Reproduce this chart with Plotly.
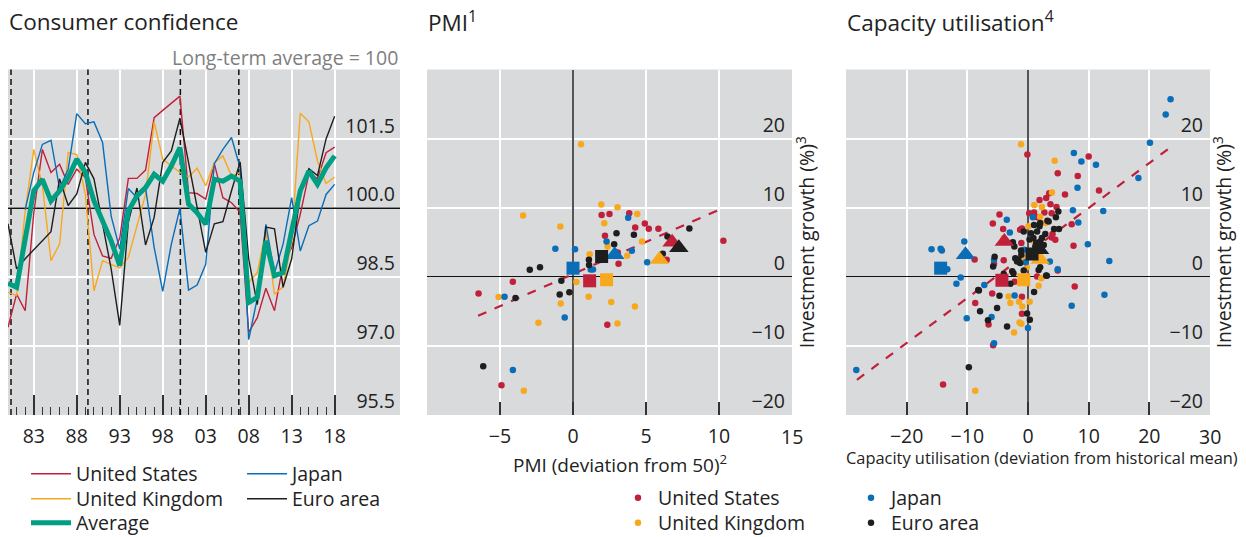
import plotly.graph_objects as go

# ---------------- data: consumer confidence (long-term average = 100) ----------------
years = list(range(1980, 2019))
cc_us = [97.41, 98.13, 97.77, 99.9, 101.28, 100.78, 100.96, 100.52, 100.85, 100.67,
         99.43, 98.96, 98.91, 99.35, 100.65, 100.65, 100.83, 101.97, 102.13, 102.28,
         102.44, 100.34, 100.32, 100.2, 100.97, 100.23, 100.12, 99.91, 97.3, 97.62,
         98.26, 97.77, 98.78, 99.14, 99.87, 100.75, 100.65, 101.21, 101.33]
cc_uk = [98.17, 98.1, 99.94, 101.28, 100.5, 98.86, 99.22, 101.21, 101.17, 100.3,
         98.2, 98.86, 98.78, 98.7, 98.93, 99.6, 100.3, 101.88, 101.07, 100.92,
         100.78, 100.68, 100.87, 100.49, 100.99, 101.14, 100.7, 100.78, 98.38, 98.6,
         99.51, 98.13, 98.29, 99.3, 102.07, 101.88, 101.03, 100.54, 100.68]
cc_jp = [None, None, 99.97, 100.78, 101.39, 101.48, 100.43, 100.85, 102.06, 101.84,
         101.88, 101.43, 99.83, 99.11, 100.43, 100.23, 100.45, 99.15, 98.19, 99.22,
         100.0, 98.22, 98.33, 98.78, 100.97, 101.28, 101.54, 100.88, 97.14, 98.04,
         99.65, 98.59, 99.22, 100.23, 99.07, 99.62, 99.72, 100.3, 100.52]
cc_ea = [99.66, 98.68, 98.9, 99.1, 99.3, 99.49, 100.64, 100.06, 100.31, 101.0,
         100.64, 99.7, 98.68, 97.45, 99.7, 100.44, 99.2, 99.8, 101.0, 101.25,
         101.96, 101.0, 100.06, 99.04, 99.66, 99.71, 100.38, 101.01, 98.9, 97.9,
         99.59, 99.55, 98.28, 98.9, 100.31, 100.86, 100.71, 101.51, 102.0]
cc_avg = [98.37, 98.28, 99.33, 100.38, 100.63, 100.16, 100.38, 100.67, 101.07, 100.78,
          100.16, 99.72, 99.29, 98.75, 99.94, 100.27, 100.45, 100.74, 100.59, 100.92,
          101.32, 100.09, 99.9, 99.65, 100.63, 100.59, 100.7, 100.59, 97.95, 98.06,
          99.29, 98.53, 98.6, 99.51, 100.38, 100.81, 100.52, 100.88, 101.14]
cc_baseline = 100.0
cc_x_range = [1980, 2025.6]
cc_y_range = [95.5, 103.02]
recession_dates = [1980.35, 1989.3, 2000.05, 2006.85]
cc_major_ticks = [1983, 1988, 1993, 1998, 2003, 2008, 2013, 2018]
cc_major_labels = ["83", "88", "93", "98", "03", "08", "13", "18"]
cc_y_ticks = [95.5, 97.0, 98.5, 100.0, 101.5]
cc_y_labels = ["95.5", "97.0", "98.5", "100.0", "101.5"]

# ---------------- data: PMI vs investment growth ----------------
pmi_us_x = [1.96, 2.5, 3.85, 4.26, 4.92, 5.19, 5.85, 2.19, 3.07, 3.12, 6.42, 10.3, -4.12, -6.47, 2.35, -4.9]
pmi_us_y = [8.96, 9.1, 9.2, 7.13, 7.71, 6.94, 6.94, 5.93, 3.52, 1.88, 2.46, 5.2, -0.72, -2.41, -6.94, -15.7]
pmi_uk_x = [0.55, -3.42, -0.87, 1.94, 3.05, 2.14, 4.4, 4.72, 3.71, 1.14, 2.37, 0.23, -5.1, -0.84, 1.07,
            2.62, 4.24, -2.37, 3.05, -3.37, 6.65]
pmi_uk_y = [19.2, 8.87, 7.28, 10.46, 10.07, 7.76, 9.1, 5.1, 3.04, 3.28, 4.39, -0.77, -2.94, -3.86, -2.89,
            -3.66, -4.29, -6.65, -6.75, -16.5, 5.6]
pmi_jp_x = [3.78, 2.3, -1.21, 0.14, 4.03, 5.08, 1.21, 1.37, -4.69, -0.57, -4.12]
pmi_jp_y = [8.53, 5.1, 4.05, 4.0, 3.76, 2.12, 1.06, 1.06, -2.89, -5.88, -13.5]
pmi_ea_x = [2.98, 4.17, 2.82, 6.47, 7.97, 6.15, 1.09, 1.1, -2.96, -2.26, -0.8, -0.91, -0.25, -3.94, -6.15]
pmi_ea_y = [6.31, 6.07, 4.72, 5.83, 6.99, 3.33, 2.46, 1.7, 1.01, 1.4, -0.58, -2.55, -2.22, -3.08, -12.96]
# large markers: squares and triangles (US, UK, Japan, Euro area)
pmi_sq_x = [1.14, 2.3, 0.0, 1.96]
pmi_sq_y = [-0.58, -0.43, 1.25, 2.94]
pmi_tri_x = [6.79, 5.92, 2.86, 7.25]
pmi_tri_y = [5.0, 2.5, 3.2, 4.2]
pmi_trend_x = [-6.5, 10.0]
pmi_trend_slope = 0.93
pmi_trend_icpt = 0.40
pmi_x_ticks = [-10, -5, 0, 5, 10, 15]
pmi_x_labels = ["", "\u22125", "0", "5", "10", "15"]

# ---------------- data: capacity utilisation vs investment growth ----------------
cu_us_x = [-0.1, 10.0, 4.9, 8.2, 11.7, 6.1, 1.9, 3.0, 3.5, 3.7, 4.7, -4.7, -5.8, -4.1, -1.3, -1.0, -1.1,
           0.2, 1.0, 1.5, 2.7, 3.9, 7.2, 7.5, 4.05, 3.9, 4.5, -8.8, -5.6, -4.0, 4.9, 7.7, 1.5,
           -5.9, -8.7, -6.5, -5.75, -14.0, -1.0, -1.0, -2.2]
cu_us_y = [17.7, 17.4, 15.0, 14.6, 12.5, 11.9, 11.1, 11.4, 12.1, 10.5, 10.1, 9.0, 7.7, 6.9, 6.8, 7.0, 4.9,
           9.2, 9.3, 8.6, 9.3, 9.2, 7.6, 4.5, 6.2, 5.7, 5.35, 2.5, 1.9, 2.4, 0.9, -1.4, 0.05,
           -2.4, -3.8, -6.9, -9.9, -15.6, -2.9, -5.35, -0.7]
cu_uk_x = [-1.15, 4.4, 3.95, 1.04, 2.3, 2.0, 2.85, 0.1, 1.04, -4.0, -0.9, 1.75, 0.27, -3.2, -2.9, -1.5,
           -0.93, -1.4, -1.1, -2.3, -8.7, 2.2, -0.2]
cu_uk_y = [19.2, 16.8, 12.2, 10.4, 10.1, 8.7, 7.8, 7.3, 5.1, 5.6, 2.9, -1.3, -3.6, -2.85, -3.8, -3.6,
           -4.3, -6.6, -6.8, -8.05, -16.5, -0.2, 1.4]
cu_jp_x = [23.5, 22.7, 20.1, 18.2, 7.56, 8.8, 11.2, 8.16, 7.4, 8.3, 12.4, 9.86, 13.4, 12.6, 7.2, 4.9, 3.6,
           0.0, -5.6, -10.1, -6.0, -7.2, -11.8, -11.1, -13.3, -15.9, -14.4, -14.2, -10.5, -3.5, -3.0,
           -5.6, -28.3, -0.6, 0.8, -2.2, -0.4]
cu_jp_y = [25.7, 23.5, 19.4, 14.3, 17.9, 16.7, 16.2, 12.9, 9.64, 7.86, 9.54, 4.72, 2.27, -2.6, -4.2, 1.1, 2.2,
           -7.4, -9.6, -6.0, -5.8, -1.2, -1.0, -0.1, 1.1, 4.0, 4.05, 3.8, 5.1, 8.24, 6.4,
           2.46, -13.5, 3.9, 8.6, -2.7, 2.1]
cu_ea_x = [-9.75, 5.0, 4.3, 5.1, 2.85, 1.9, 3.4, 0.5, -0.7, -2.5, -2.25, -1.15, -5.5, -5.75, -1.6, -1.3,
           -2.6, -4.0, 1.75, 3.1, -8.2, -4.7, -5.1, -7.9, -6.6, -3.45, 0.3, -0.15, 1.0, -2.9, -0.7,
           0.4, 1.2, 2.0, 2.6, 0.9, 1.5, 4.6, 2.0, 1.0, 1.5, 3.2, 2.3, 1.35, 0.25, -1.1, -2.1, -1.8,
           -2.4, 2.0, 3.0, -8.1]
cu_ea_y = [-13.1, 9.45, 6.9, 6.9, 6.2, 7.3, 8.0, 6.3, 6.55, 5.0, 4.4, 3.8, 2.9, 1.5, 2.5, 2.0,
           0.8, 0.4, 1.0, 0.15, -1.9, -2.75, -4.5, -5.0, -6.3, -7.2, -6.2, -5.3, -2.2, -1.0, 0.9,
           2.9, 4.4, 5.1, 4.6, 5.6, 3.4, 8.6, 7.8, 7.5, 6.55, 8.1, 5.6, 4.9, 5.4, 3.2, 2.7, 2.2,
           0.5, 1.4, 0.2, -2.0]
cu_sq_x = [-4.3, -0.7, -14.4, 0.66]
cu_sq_y = [-0.5, -0.43, 1.25, 3.3]
cu_tri_x = [-3.9, 2.0, -10.3, 1.9]
cu_tri_y = [5.1, 2.5, 3.2, 3.9]
cu_trend_x = [-28.2, 23.5]
cu_trend_slope = 0.651
cu_trend_icpt = 3.45
cu_x_ticks = [-30, -20, -10, 0, 10, 20, 30]
cu_x_labels = ["", "\u221220", "\u221210", "0", "10", "20", "30"]

inv_y_ticks = [-20, -10, 0, 10, 20]
inv_y_labels = ["\u221220", "\u221210", "0", "10", "20"]

countries = ["United States", "United Kingdom", "Japan", "Euro area"]
colors = {"United States": "#C1203B", "United Kingdom": "#F8A81D",
          "Japan": "#0A6DB8", "Euro area": "#1E1E1E"}
AVG_COLOR = "#009E82"
BG = "#D9DADC"
TXT = "#222222"
FONT = "Open Sans"
W, H = 1246, 537


def px_x(p):
    return p / W


def px_y(p):
    return 1 - p / H


# legend placement (pixels): one single-entry legend per item
line_leg_pos = {"United States": (26, 474), "United Kingdom": (26, 499), "Average": (26, 523),
                "Japan": (242, 474), "Euro area": (242, 499)}
dot_leg_pos = {"United States": (618, 498), "United Kingdom": (618, 523),
               "Japan": (851, 498), "Euro area": (851, 523)}
legend_ids = {}
legend_layout = {}
n = 0
for key, (lx, ly) in list(line_leg_pos.items()) + [("dot " + k, v) for k, v in dot_leg_pos.items()]:
    n += 1
    lid = "legend" if n == 1 else "legend%d" % n
    legend_ids[key] = lid
    legend_layout[lid] = dict(x=px_x(lx), y=px_y(ly), xanchor="left", yanchor="middle",
                              orientation="v", bgcolor="rgba(0,0,0,0)",
                              itemwidth=40 if not key.startswith("dot ") else 30,
                              font=dict(family=FONT, size=19.5, color=TXT))

fig = go.Figure()

# ---- left panel: reference line at the long-term average, then country lines ----
fig.add_trace(go.Scatter(x=cc_x_range, y=[cc_baseline, cc_baseline], mode="lines",
                         line=dict(color="#111111", width=1.3), showlegend=False,
                         hoverinfo="skip", xaxis="x", yaxis="y"))
line_series = [("United States", cc_us), ("United Kingdom", cc_uk),
               ("Japan", cc_jp), ("Euro area", cc_ea)]
for name, vals in line_series:
    fig.add_trace(go.Scatter(x=years, y=vals, mode="lines", name=name,
                             line=dict(color=colors[name], width=1.4),
                             xaxis="x", yaxis="y", legend=legend_ids[name], connectgaps=False))
fig.add_trace(go.Scatter(x=years, y=cc_avg, mode="lines", name="Average",
                         line=dict(color=AVG_COLOR, width=5), xaxis="x", yaxis="y",
                         legend=legend_ids["Average"]))

# ---- scatter panels ----
pmi_pts = {"United States": (pmi_us_x, pmi_us_y), "United Kingdom": (pmi_uk_x, pmi_uk_y),
           "Japan": (pmi_jp_x, pmi_jp_y), "Euro area": (pmi_ea_x, pmi_ea_y)}
cu_pts = {"United States": (cu_us_x, cu_us_y), "United Kingdom": (cu_uk_x, cu_uk_y),
          "Japan": (cu_jp_x, cu_jp_y), "Euro area": (cu_ea_x, cu_ea_y)}

for tx, slope, icpt, xa, ya in [(pmi_trend_x, pmi_trend_slope, pmi_trend_icpt, "x2", "y2"),
                                (cu_trend_x, cu_trend_slope, cu_trend_icpt, "x3", "y3")]:
    fig.add_trace(go.Scatter(x=tx, y=[slope * v + icpt for v in tx], mode="lines",
                             line=dict(color="#C1203B", width=2.2, dash="dash"),
                             xaxis=xa, yaxis=ya, showlegend=False, hoverinfo="skip"))

for name in countries:
    x, y = pmi_pts[name]
    fig.add_trace(go.Scatter(x=x, y=y, mode="markers", name=name, legendgroup=name,
                             marker=dict(color=colors[name], size=6.5, line=dict(width=0)),
                             xaxis="x2", yaxis="y2", legend=legend_ids["dot " + name]))
    x, y = cu_pts[name]
    fig.add_trace(go.Scatter(x=x, y=y, mode="markers", name=name, legendgroup=name,
                             marker=dict(color=colors[name], size=6.5, line=dict(width=0)),
                             xaxis="x3", yaxis="y3", showlegend=False))

for sx, sy, tx_, ty_, xa, ya in [(pmi_sq_x, pmi_sq_y, pmi_tri_x, pmi_tri_y, "x2", "y2"),
                                 (cu_sq_x, cu_sq_y, cu_tri_x, cu_tri_y, "x3", "y3")]:
    for i, name in enumerate(countries):
        fig.add_trace(go.Scatter(x=[tx_[i]], y=[ty_[i]], mode="markers", showlegend=False,
                                 marker=dict(symbol="triangle-up", size=17, color=colors[name],
                                             line=dict(width=0)),
                                 xaxis=xa, yaxis=ya, legendgroup=name))
        fig.add_trace(go.Scatter(x=[sx[i]], y=[sy[i]], mode="markers", showlegend=False,
                                 marker=dict(symbol="square", size=13, color=colors[name],
                                             line=dict(width=0)),
                                 xaxis=xa, yaxis=ya, legendgroup=name))

# ---- dashed vertical lines ----
shapes = []
for d in recession_dates:
    shapes.append(dict(type="line", xref="x", yref="y domain", x0=d, x1=d, y0=0, y1=1,
                       line=dict(color="#111111", width=1.5, dash="6px,4px"), layer="below"))

ydom = [px_y(415), px_y(69.5)]
tickfont = dict(family=FONT, size=19.5, color=TXT)


def scatter_x_axis(dom, ticks, labels, anchor):
    # the end-of-axis label is written separately (Plotly hides it next to inside y labels)
    return dict(domain=dom, range=[ticks[0], ticks[-1]], anchor=anchor,
                tickmode="array", tickvals=ticks, ticktext=labels[:-1] + [""],
                ticks="inside", ticklen=13, tickwidth=1.5, tickcolor="#333333",
                ticklabelstandoff=7, ticklabeloverflow="allow",
                showgrid=True, gridcolor="white", gridwidth=1.5, showline=False,
                zeroline=True, zerolinecolor="#555555", zerolinewidth=1.6, tickfont=tickfont)


def scatter_y_axis(anchor, standoff):
    return dict(domain=ydom, range=[-20, 30], anchor=anchor, side="right",
                tickmode="array", tickvals=inv_y_ticks, ticktext=inv_y_labels,
                ticklabelposition="inside top", ticks="", ticklabelstandoff=4,
                showgrid=True, gridcolor="white", gridwidth=1.5, showline=False,
                zeroline=True, zerolinecolor="#111111", zerolinewidth=1.3, tickfont=tickfont,
                title=dict(text="Investment growth (%)<sup>3</sup>", standoff=standoff,
                           font=dict(family=FONT, size=19.5, color=TXT)))


end_labels = [dict(text=pmi_x_labels[-1], x=pmi_x_ticks[-1], xref="x2"),
              dict(text=cu_x_labels[-1], x=cu_x_ticks[-1], xref="x3")]
annotations = [dict(text=e["text"], x=e["x"], xref=e["xref"], y=px_y(436), yref="paper",
                    xanchor="center", yanchor="middle", showarrow=False, font=tickfont)
               for e in end_labels]
annotations += [
    dict(text="Consumer confidence", x=px_x(7), y=px_y(22), xref="paper", yref="paper",
         xanchor="left", yanchor="middle", showarrow=False,
         font=dict(family=FONT, size=22.5, color=TXT)),
    dict(text="PMI<sup>1</sup>", x=px_x(426), y=px_y(22), xref="paper", yref="paper",
         xanchor="left", yanchor="middle", showarrow=False,
         font=dict(family=FONT, size=22.5, color=TXT)),
    dict(text="Capacity utilisation<sup>4</sup>", x=px_x(845), y=px_y(22), xref="paper",
         yref="paper", xanchor="left", yanchor="middle", showarrow=False,
         font=dict(family=FONT, size=22.5, color=TXT)),
    dict(text="Long-term average = 100", x=px_x(400), y=px_y(57), xref="paper", yref="paper",
         xanchor="right", yanchor="middle", showarrow=False,
         font=dict(family=FONT, size=19.5, color="#7F7F7F")),
    dict(text="PMI (deviation from 50)<sup>2</sup>", x=px_x(620), y=px_y(464), xref="paper",
         yref="paper", xanchor="center", yanchor="middle", showarrow=False,
         font=dict(family=FONT, size=19, color=TXT)),
    dict(text="Capacity utilisation (deviation from historical mean)", x=px_x(1042),
         y=px_y(457), xref="paper", yref="paper", xanchor="center", yanchor="middle",
         showarrow=False, font=dict(family=FONT, size=16.4, color=TXT)),
]

fig.update_layout(
    width=W, height=H, margin=dict(l=0, r=0, t=0, b=0, autoexpand=False),
    paper_bgcolor="white", plot_bgcolor=BG,
    font=dict(family=FONT, size=19, color=TXT),
    shapes=shapes,
    xaxis=dict(domain=[px_x(8), px_x(400)], range=cc_x_range, anchor="y",
               tickmode="array", tickvals=cc_major_ticks, ticktext=cc_major_labels,
               ticks="inside", ticklen=20, tickwidth=1.5, tickcolor="#333333",
               ticklabelstandoff=7, ticklabeloverflow="allow",
               showgrid=True, gridcolor="white", gridwidth=1.5, showline=False, zeroline=False,
               tickfont=tickfont,
               minor=dict(tickmode="array", tickvals=years, ticks="inside", ticklen=8,
                          tickwidth=1.3, tickcolor="#333333", showgrid=False)),
    yaxis=dict(domain=ydom, range=cc_y_range, anchor="x", side="right",
               tickmode="array", tickvals=cc_y_ticks, ticktext=cc_y_labels,
               ticklabelposition="inside top", ticks="", ticklabelstandoff=2,
               showgrid=True, gridcolor="white", gridwidth=1.5, zeroline=False, showline=False,
               tickfont=tickfont),
    xaxis2=scatter_x_axis([px_x(427), px_x(792)], pmi_x_ticks, pmi_x_labels, "y2"),
    yaxis2=scatter_y_axis("x2", 16),
    xaxis3=scatter_x_axis([px_x(846), px_x(1210)], cu_x_ticks, cu_x_labels, "y3"),
    yaxis3=scatter_y_axis("x3", 15),
    annotations=annotations,
)
fig.update_layout(**legend_layout)

fig.write_html("out.html", config={"displayModeBar": False},
               post_script="document.body.style.margin='0';document.body.style.overflow='hidden';")
